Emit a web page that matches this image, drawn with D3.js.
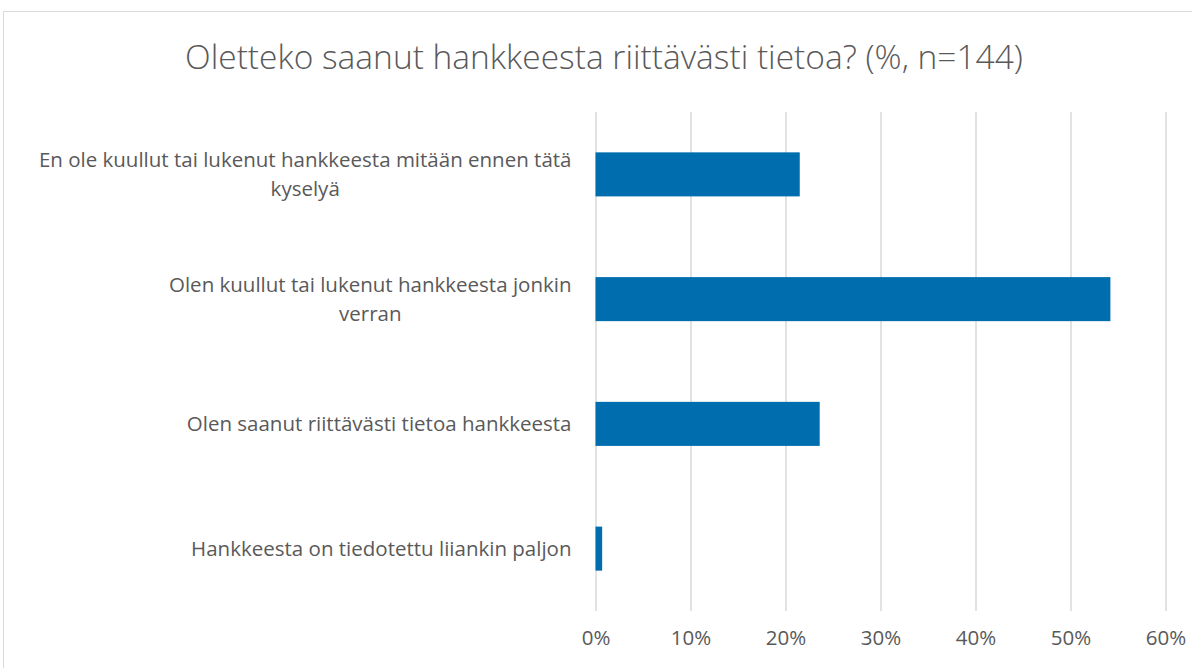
<!DOCTYPE html>
<html>
<head>
<meta charset="utf-8">
<script src="https://cdn.jsdelivr.net/npm/d3@7"></script>
<style>
  body { margin: 0; background: #ffffff; }
  svg { display: block; font-family: "Open Sans", Lato, sans-serif; }
</style>
</head>
<body>
<svg id="drawing_region"></svg>
<script>
// category labels (line breaks as in the original), values in %
const categories = [
    "En ole kuullut tai lukenut hankkeesta mitään ennen tätä\nkyselyä",
    "Olen kuullut tai lukenut hankkeesta jonkin\nverran",
    "Olen saanut riittävästi tietoa hankkeesta",
    "Hankkeesta on tiedotettu liiankin paljon"
];
const values = [21.5, 54.2, 23.6, 0.7];
const xticks = [0, 10, 20, 30, 40, 50, 60];
const title = "Oletteko saanut hankkeesta riittävästi tietoa? (%, n=144)";

class BarChart {

    constructor( config, data ) {
        this.config = {
            parent: config.parent,
            width: config.width || 256,
            height: config.height || 256,
            margin: config.margin || {top:10, right:10, bottom:10, left:10}
        }
        this.data = data;
        this.init();
    }

    init() {
        let self = this;

        self.svg = d3.select( self.config.parent )
            .attr('width', self.config.width)
            .attr('height', self.config.height);

        // chart frame
        self.svg.append('rect')
            .attr('x', 3.5)
            .attr('y', 11.5)
            .attr('width', 1200)
            .attr('height', 700)
            .attr('fill', 'none')
            .attr('stroke', '#d9d9d9');

        self.chart = self.svg.append('g')
            .attr('transform', `translate(${self.config.margin.left}, ${self.config.margin.top})`);

        self.inner_width = self.config.width - self.config.margin.left - self.config.margin.right;
        self.inner_height = self.config.height - self.config.margin.top - self.config.margin.bottom;

        self.xscale = d3.scaleLinear()
            .domain( [0, 60] )
            .range( [0, self.inner_width] );

        self.yscale = d3.scaleBand()
            .domain( self.data.map( d => d.label ) )
            .range( [0, self.inner_height] )
            .paddingInner( 0.647 )
            .paddingOuter( 0.3235 );

        self.xaxis = d3.axisBottom( self.xscale )
            .tickValues( xticks )
            .tickFormat( d => d + '%' )
            .tickSizeInner( -self.inner_height )
            .tickSizeOuter( 0 )
            .tickPadding( 19 );

        self.xaxis_group = self.chart.append('g')
            .attr('transform', `translate(0, ${self.inner_height})`);

        self.label_group = self.chart.append('g');
    }

    render() {
        let self = this;

        self.xaxis_group.call( self.xaxis );
        self.xaxis_group.select('.domain').remove();
        self.xaxis_group.selectAll('.tick line')
            .attr('stroke', '#d9d9d9')
            .attr('stroke-width', 1.5);
        self.xaxis_group.selectAll('.tick text')
            .attr('fill', '#595959')
            .attr('font-family', '"Open Sans", sans-serif')
            .attr('font-size', '20.5px');

        self.chart.selectAll('rect.bar')
            .data(self.data)
            .enter()
            .append('rect')
            .attr('class', 'bar')
            .attr('x', 0)
            .attr('y', d => self.yscale( d.label ))
            .attr('width', d => self.xscale( d.value ))
            .attr('height', self.yscale.bandwidth())
            .attr('fill', '#006eae');

        // category labels, each block right aligned, lines centred inside the block
        const labels = self.label_group.selectAll('text')
            .data(self.data)
            .enter()
            .append('text')
            .attr('fill', '#595959')
            .attr('font-size', '20.5px')
            .attr('text-anchor', 'middle');

        labels.each( function(d) {
            const lines = d.label.split('\n');
            const cy = self.yscale( d.label ) + self.yscale.bandwidth() / 2;
            const t = d3.select(this);
            const lh = 29;
            lines.forEach( (line, i) => {
                t.append('tspan')
                    .attr('y', cy + (i - (lines.length - 1) / 2) * lh)
                    .attr('dy', '0.35em')
                    .text(line);
            });
            const w = d3.max( t.selectAll('tspan').nodes(), n => n.getComputedTextLength() );
            t.selectAll('tspan').attr('x', -24 - w / 2);
        });

        self.svg.append('text')
            .attr('x', 604)
            .attr('y', 69)
            .attr('text-anchor', 'middle')
            .attr('fill', '#595959')
            .attr('font-size', '33.5px')
            .attr('font-weight', 300)
            .text(title);
    }
}

const data = categories.map( (c, i) => ({ label: c, value: values[i] }) );

var config = {
    parent: '#drawing_region',
    width: 1192,
    height: 668,
    margin: {top:112, right:26.5, bottom:57, left:595.5}
};

const bar_chart = new BarChart( config, data );
bar_chart.render();
</script>
</body>
</html>
